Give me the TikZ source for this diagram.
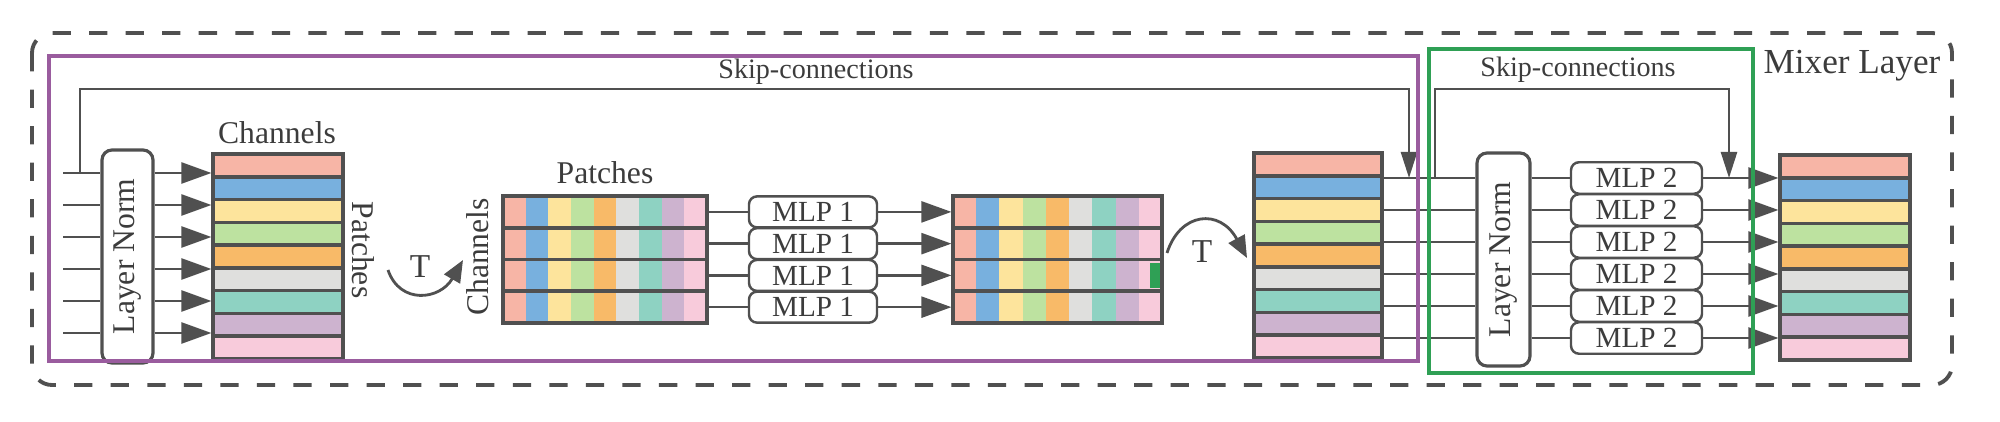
\documentclass[tikz,border=0pt]{standalone}
\usepackage{fontspec}
\setmainfont{Liberation Serif}
\usepackage{graphicx}
\usetikzlibrary{arrows.meta,calc}

\definecolor{cSalmon}{HTML}{F7B5A6}
\definecolor{cBlue}{HTML}{78B0DE}
\definecolor{cYellow}{HTML}{FDE49C}
\definecolor{cGreen}{HTML}{BDE2A0}
\definecolor{cOrange}{HTML}{F8BA68}
\definecolor{cGray}{HTML}{DFDFDD}
\definecolor{cTeal}{HTML}{8ED2C2}
\definecolor{cLilac}{HTML}{CDB3CF}
\definecolor{cPink}{HTML}{F8CBDB}
\definecolor{lineGray}{HTML}{505050}
\definecolor{textGray}{HTML}{3C3C3C}
\definecolor{boxPurple}{HTML}{9A5C9E}
\definecolor{boxGreen}{HTML}{2FA055}

\newcommand{\stripecols}{cSalmon,cBlue,cYellow,cGreen,cOrange,cGray,cTeal,cLilac,cPink}

\tikzset{
  chan/.style={draw=lineGray, line width=0.9pt, minimum width=1.3cm, minimum height=2.05cm, inner sep=0pt,
    path picture={
      \coordinate (nw) at (path picture bounding box.north west);
      \coordinate (ne) at (path picture bounding box.north east);
      \coordinate (sw) at (path picture bounding box.south west);
      \coordinate (se) at (path picture bounding box.south east);
      \foreach \c [count=\i from 0, evaluate=\i as \a using \i/9, evaluate=\i as \b using (\i+1)/9] in \stripecols
        \fill[\c] ($(nw)!\a!(sw)$) rectangle ($(ne)!\b!(se)$);
      \foreach \i [evaluate=\i as \a using \i/9] in {1,...,8}
        \draw[line width=1pt] ($(nw)!\a!(sw)$) -- ($(ne)!\a!(se)$);
    }},
  patch/.style={draw=lineGray, line width=0.9pt, minimum width=2.04cm, minimum height=1.27cm, inner sep=0pt,
    path picture={
      \coordinate (nw) at (path picture bounding box.north west);
      \coordinate (ne) at (path picture bounding box.north east);
      \coordinate (sw) at (path picture bounding box.south west);
      \coordinate (se) at (path picture bounding box.south east);
      \foreach \c [count=\i from 0, evaluate=\i as \a using \i/9, evaluate=\i as \b using (\i+1)/9] in \stripecols
        \fill[\c] ($(nw)!\a!(ne)$) rectangle ($(sw)!\b!(se)$);
      \foreach \i [evaluate=\i as \a using \i/4] in {1,2,3}
        \draw[line width=1.1pt] ($(nw)!\a!(sw)$) -- ($(ne)!\a!(se)$);
    }},
  norm/.style={draw=lineGray, line width=0.9pt, rounded corners=1mm, minimum width=0.51cm,
    minimum height=2.13cm, inner sep=0pt, font=\fontsize{9}{9}\selectfont},
  mlp/.style={draw=lineGray, line width=0.7pt, rounded corners=0.8mm, minimum width=1.28cm,
    minimum height=0.31cm, inner sep=0pt, font=\fontsize{8.3}{8.3}\selectfont},
  lab/.style={font=\fontsize{9}{9}\selectfont, inner sep=0pt},
  skiplab/.style={font=\fontsize{8}{8}\selectfont, inner sep=0pt},
  tee/.style={font=\fontsize{9.5}{9.5}\selectfont, inner sep=0pt},
  arr/.style={-{Triangle[length=3mm,width=2.1mm]}},
  skip/.style={-{Triangle[length=2.6mm,width=1.6mm]}},
  turn/.style={-{Triangle[length=2.2mm,width=1.8mm]}, line width=0.8pt}
}

\begin{document}
\begin{tikzpicture}[x=1cm, y=-1cm, line width=0.7pt, color=lineGray, text=textGray]
  \useasboundingbox (0,0) rectangle (20,4.22);
  % Primo blocco (token mixing)
  \foreach \i in {1,...,6}
    \coordinate (in\i) at (0.63,{1.73+(\i-1)*0.32});
  \node[norm] (norm1) at (1.275,2.565) {\rotatebox{90}{Layer Norm}};
  \node[chan] (tabCh1) at (2.78,2.565) {};
  \foreach \i in {1,...,6} {
    \draw (in\i) -- (in\i -| norm1.west);
    \draw[arr] (in\i -| norm1.east) -- (in\i -| tabCh1.west);
  }
  \node[lab] (chLabA) at (2.77,1.33) {Channels};
  \node[lab] (paLabA) at (3.63,2.50) {\rotatebox{-90}{Patches}};
  % Trasposizione
  \coordinate (tA1) at (3.88,2.70);
  \coordinate (tA2) at (4.63,2.60);
  \draw[turn] (tA1) .. controls (4.0,3.05) and (4.4,3.0) .. (tA2);
  \node[tee] (tA) at (4.20,2.67) {T};
  \node[lab] (chLabB) at (4.78,2.57) {\rotatebox{90}{Channels}};
  \node[lab] (paLabB) at (6.05,1.73) {Patches};
  \node[patch] (tabPa1) at (6.05,2.595) {};
  \node[patch, minimum width=2.09cm] (tabPa2) at (10.575,2.595) {};
  \foreach \i in {1,...,4} {
    \node[mlp] (mlpA\i) at (8.13,{2.119+(\i-1)*0.3175}) {MLP 1};
    \draw (mlpA\i.west -| tabPa1.east) -- (mlpA\i.west);
    \draw[arr] (mlpA\i.east) -- (mlpA\i.east -| tabPa2.west);
  }
  \fill[boxGreen] (11.50,2.63) rectangle (11.60,2.88);
  % Seconda trasposizione
  \coordinate (tB1) at (11.67,2.53);
  \coordinate (tB2) at (12.47,2.58);
  \draw[turn] (tB1) .. controls (11.8,2.12) and (12.2,2.08) .. (tB2);
  \node[tee] (tB) at (12.02,2.52) {T};
  \node[chan, minimum width=1.28cm] (tabCh2) at (13.18,2.555) {};
  % Secondo blocco (channel mixing)
  \node[norm, minimum width=0.53cm] (norm2) at (15.035,2.595) {\rotatebox{90}{Layer Norm}};
  \node[chan] (tabCh3) at (18.45,2.575) {};
  \foreach \i in {1,...,6} {
    \node[mlp, minimum width=1.31cm, minimum height=0.315cm] (mlpB\i) at (16.365,{1.78+(\i-1)*0.32}) {MLP 2};
    \draw (mlpB\i.west -| tabCh2.east) -- (mlpB\i.west -| norm2.west);
    \draw (mlpB\i.west -| norm2.east) -- (mlpB\i.west);
    \draw[arr] (mlpB\i.east) -- (mlpB\i.east -| tabCh3.west);
  }
  % Skip-connections
  \coordinate (skA1) at (0.80,1.73);
  \coordinate (skA2) at (14.09,1.78);
  \draw[skip] (skA1) -- ++(0,-0.84) -| (skA2);
  \node[skiplab] (skLabA) at (8.16,0.72) {Skip-connections};
  \coordinate (skB1) at (14.35,1.78);
  \coordinate (skB2) at (17.29,1.78);
  \draw[skip] (skB1) -- ++(0,-0.89) -| (skB2);
  \node[skiplab] (skLabB) at (15.78,0.70) {Skip-connections};
  % Riquadri
  \draw[boxPurple, line width=0.9pt] (0.49,0.56) rectangle (14.18,3.61);
  \draw[boxGreen, line width=0.9pt] (14.29,0.49) rectangle (17.53,3.73);
  \draw[line width=1.1pt, dash pattern=on 5.2pt off 5.2pt, rounded corners=2mm] (0.32,0.33) rectangle (19.52,3.85);
  \node[font=\fontsize{10}{10}\selectfont, inner sep=0pt] (mixer) at (18.52,0.66) {Mixer Layer};
\end{tikzpicture}
\end{document}
